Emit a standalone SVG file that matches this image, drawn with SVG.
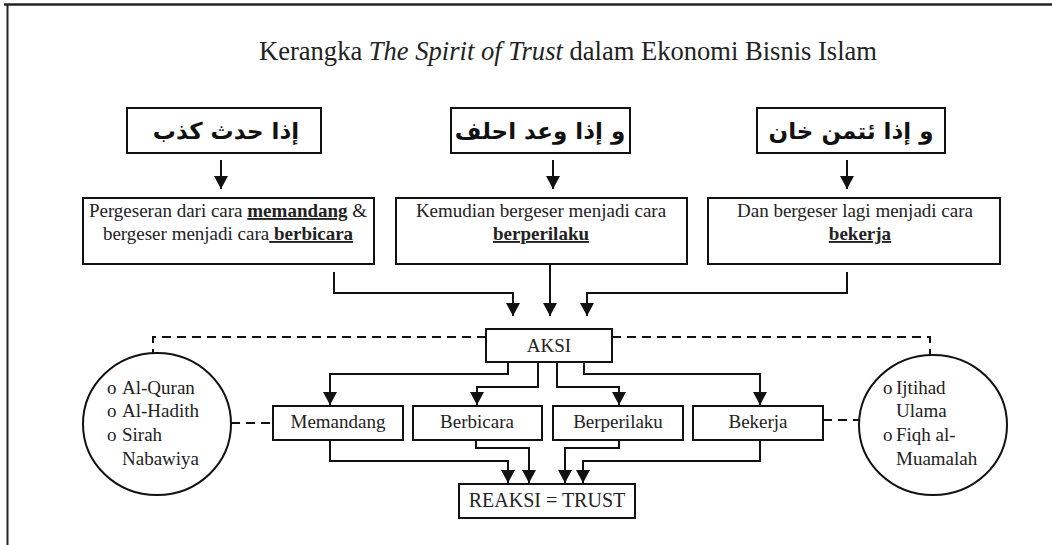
<svg xmlns="http://www.w3.org/2000/svg" width="1052" height="545" viewBox="0 0 1052 545">
<style>
.box{fill:#fff;stroke:#111;stroke-width:2}
.ln{fill:none;stroke:#111;stroke-width:2}
.dash{fill:none;stroke:#111;stroke-width:2;stroke-dasharray:9 6}
.t{font-family:"Liberation Serif","Times New Roman",serif;font-size:19px;fill:#222}
.ar{font-family:"DejaVu Sans",sans-serif;font-size:23px;font-weight:bold;fill:#111}
.u{font-weight:bold;text-decoration:underline}
</style>
<defs>
<marker id="ah" viewBox="0 0 13 14" refX="13" refY="7" markerWidth="13" markerHeight="14" markerUnits="userSpaceOnUse" orient="auto">
<path d="M0,0 L13,7 L0,14 Z" fill="#111"/>
</marker>
</defs>
<rect width="1052" height="545" fill="#fff"/>
<g id="frame">
<line x1="4" y1="4.5" x2="1052" y2="4.5" stroke="#222" stroke-width="2.5"/>
<line x1="7.5" y1="4" x2="7.5" y2="545" stroke="#222" stroke-width="2"/>
</g>
<g id="title">
<text x="568" y="60" text-anchor="middle" class="t" style="font-size:27px" textLength="618" lengthAdjust="spacingAndGlyphs">Kerangka <tspan font-style="italic">The Spirit of Trust</tspan> dalam Ekonomi Bisnis Islam</text>
</g>
<g id="ar1"><rect class="box" x="127" y="108" width="194" height="45"/><text class="ar" x="226" y="139" text-anchor="middle" direction="rtl">إذا حدث كذب</text></g>
<g id="ar2"><rect class="box" x="451" y="108" width="179" height="45"/><text class="ar" x="540" y="139" text-anchor="middle" direction="rtl">و إذا وعد احلف</text></g>
<g id="ar3"><rect class="box" x="757" y="108" width="188" height="45"/><text class="ar" x="851" y="139" text-anchor="middle" direction="rtl">و إذا ئتمن خان</text></g>
<g id="shift1"><rect class="box" x="83" y="198" width="291" height="66"/>
<text class="t" x="228" y="217" text-anchor="middle">Pergeseran dari cara <tspan class="u">memandang</tspan> &amp;</text>
<text class="t" x="228" y="240" text-anchor="middle">bergeser menjadi cara<tspan class="u"> berbicara</tspan></text></g>
<g id="shift2"><rect class="box" x="396" y="198" width="291" height="66"/>
<text class="t" x="541" y="217" text-anchor="middle">Kemudian bergeser menjadi cara</text>
<text class="t" x="541" y="240" text-anchor="middle"><tspan class="u">berperilaku</tspan></text></g>
<g id="shift3"><rect class="box" x="708" y="198" width="292" height="66"/>
<text class="t" x="855" y="217" text-anchor="middle">Dan bergeser lagi menjadi cara</text>
<text class="t" x="860" y="240" text-anchor="middle"><tspan class="u">bekerja</tspan></text></g>
<g id="aksi"><rect class="box" x="486" y="329" width="126" height="33"/><text class="t" x="549" y="352" text-anchor="middle">AKSI</text></g>
<g id="memandang"><rect class="box" x="273" y="406" width="130" height="34"/><text class="t" x="338" y="428" text-anchor="middle">Memandang</text></g>
<g id="berbicara"><rect class="box" x="413" y="406" width="129" height="34"/><text class="t" x="477" y="428" text-anchor="middle">Berbicara</text></g>
<g id="berperilaku"><rect class="box" x="553" y="406" width="130" height="34"/><text class="t" x="618" y="428" text-anchor="middle">Berperilaku</text></g>
<g id="bekerja"><rect class="box" x="693" y="406" width="130" height="34"/><text class="t" x="758" y="428" text-anchor="middle">Bekerja</text></g>
<g id="reaksi"><rect class="box" x="459" y="484" width="176" height="34"/><text class="t" x="547" y="507" text-anchor="middle" style="font-size:20px">REAKSI = TRUST</text></g>
<g id="sources1"><ellipse class="box" cx="157" cy="424" rx="74" ry="71"/>
<text class="t" x="107" y="394">o</text><text class="t" x="122" y="394">Al-Quran</text>
<text class="t" x="107" y="417">o</text><text class="t" x="122" y="417">Al-Hadith</text>
<text class="t" x="107" y="441">o</text><text class="t" x="122" y="441">Sirah</text>
<text class="t" x="122" y="465">Nabawiya</text></g>
<g id="sources2"><ellipse class="box" cx="933" cy="425" rx="74" ry="70"/>
<text class="t" x="883" y="394">o</text><text class="t" x="896" y="394">Ijtihad</text>
<text class="t" x="896" y="417">Ulama</text>
<text class="t" x="883" y="441">o</text><text class="t" x="896" y="441">Fiqh al-</text>
<text class="t" x="896" y="465">Muamalah</text></g>
<g id="connectors">
<line class="ln" x1="221" y1="160" x2="221" y2="189" marker-end="url(#ah)"/>
<line class="ln" x1="553" y1="160" x2="553" y2="189" marker-end="url(#ah)"/>
<line class="ln" x1="847" y1="160" x2="847" y2="189" marker-end="url(#ah)"/>
<polyline class="ln" points="334,272 334,293 513,293 513,316" marker-end="url(#ah)"/>
<line class="ln" x1="550" y1="264" x2="550" y2="316" marker-end="url(#ah)"/>
<polyline class="ln" points="847,272 847,293 587,293 587,316" marker-end="url(#ah)"/>
<polyline class="ln" points="508,362 508,374 330,374 330,405" marker-end="url(#ah)"/>
<polyline class="ln" points="538,362 538,387 477,387 477,405" marker-end="url(#ah)"/>
<polyline class="ln" points="557,362 557,387 619,387 619,405" marker-end="url(#ah)"/>
<polyline class="ln" points="584,362 584,374 760,374 760,405" marker-end="url(#ah)"/>
<polyline class="ln" points="330,440 330,461 508,461 508,483" marker-end="url(#ah)"/>
<polyline class="ln" points="476,440 476,448 529,448 529,483" marker-end="url(#ah)"/>
<polyline class="ln" points="619,440 619,448 565,448 565,483" marker-end="url(#ah)"/>
<polyline class="ln" points="760,440 760,461 583,461 583,483" marker-end="url(#ah)"/>
<polyline class="dash" points="486,337 153,337 153,353"/>
<polyline class="dash" points="612,337 930,337 930,355"/>
<line class="dash" x1="231" y1="423" x2="273" y2="423"/>
<line class="dash" x1="823" y1="420" x2="859" y2="420"/>
</g>
</svg>
